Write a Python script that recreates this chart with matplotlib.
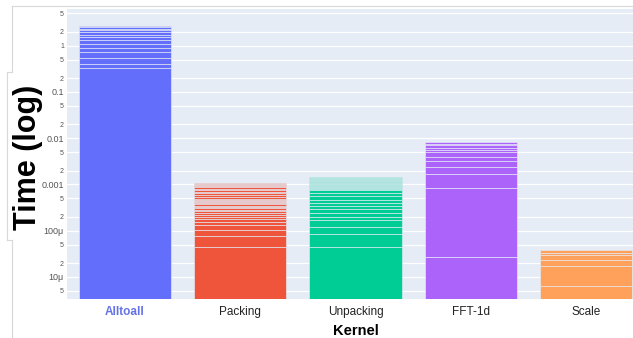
import numpy as np
import matplotlib
matplotlib.use("Agg")
import matplotlib.pyplot as plt
from matplotlib.lines import Line2D

plt.rcParams['font.family'] = ['Liberation Sans', 'DejaVu Sans']

# per-call timings of each kernel, in seconds (one stacked segment per call)
kernels = ["Alltoall", "Packing", "Unpacking", "FFT-1d", "Scale"]
colors = ["#636EFA", "#EF553B", "#00CC96", "#AB63FA", "#FFA15A"]

alltoall_t = [0.33, 0.07, 0.14, 0.19, 0.16, 0.20, 0.24, 0.19, 0.19,
              0.24, 0.24, 0.16, 0.16, 0.16]

packing_us = [45, 32, 27, 29, 22, 22, 21, 22, 22, 20, 19, 23, 22,
              24, 24, 24, 22, 22, 22, 22,
              51, 58, 60, 50, 55, 55, 55, 55, 52, 53, 50]
packing_t = [v * 1e-6 for v in packing_us]

unpacking_us = [44, 41, 35, 51, 27, 44, 56, 47, 53, 67, 100, 90, 105,
                40, 38, 38, 42, 40, 44, 46, 42, 45, 43, 46, 44,
                42, 45, 46, 48]
unpacking_t = [v * 1e-6 for v in unpacking_us]

fft_ms = [0.027, 0.80, 0.83, 0.77, 0.79, 0.77, 0.98, 0.60, 0.68, 0.90,
          0.50, 0.52]
fft_t = [v * 1e-3 for v in fft_ms]

scale_us = [6.5, 10.8, 6.0, 6.6, 3.7, 3.8]
scale_t = [v * 1e-6 for v in scale_us]

segments = [alltoall_t, packing_t, unpacking_t, fft_t, scale_t]

ytick_vals = [5e-6, 1e-5, 2e-5, 5e-5, 1e-4, 2e-4, 5e-4, 1e-3, 2e-3, 5e-3,
              1e-2, 2e-2, 5e-2, 0.1, 0.2, 0.5, 1, 2, 5]
ytick_text = ["5", "10μ", "2", "5", "100μ", "2", "5", "0.001", "2", "5",
              "0.01", "2", "5", "0.1", "2", "5", "1", "2", "5"]

W, H = 633, 338
fig = plt.figure(figsize=(W / 100, H / 100), dpi=100)
fig.patch.set_facecolor("white")

x0, x1, ytop, ybot = 67.4, 643.6, 9, 299
ax = fig.add_axes([x0 / W, (H - ybot) / H, (x1 - x0) / W, (ybot - ytop) / H])
ax.set_facecolor("#E5ECF6")
ax.set_yscale("log")
ax.set_xlim(-0.5, 4.5)
ax.set_ylim(3.34e-6, 6.23)

for i, (segs, c) in enumerate(zip(segments, colors)):
    segs = np.array(segs)
    bottoms = np.concatenate([[0], np.cumsum(segs)[:-1]])
    ax.bar(np.full(len(segs), i), segs, bottom=bottoms, width=0.8,
           color=c, edgecolor="#E5ECF6", linewidth=0.45, zorder=2)

ax.set_yticks(ytick_vals, ytick_text)
ax.yaxis.set_minor_locator(matplotlib.ticker.NullLocator())
for lab in ax.get_yticklabels():
    if len(lab.get_text()) == 1:
        lab.set_fontsize(5)
    else:
        lab.set_fontsize(6.5)
    lab.set_color("#555555")
ax.tick_params(axis="y", length=0, pad=2.5)
ax.grid(axis="y", color="white", linewidth=0.9, zorder=1)
ax.set_axisbelow(True)

ax.set_xticks(range(len(kernels)), kernels)
ax.tick_params(axis="x", length=0, pad=5, labelsize=8.5, labelcolor="#222222")
xl = ax.get_xticklabels()
xl[0].set_color("#6673E6")
xl[0].set_fontweight("bold")

for s in ax.spines.values():
    s.set_visible(False)

fig.text(355.5 / W, (H - 331) / H, "Kernel", fontsize=10.5, fontweight="bold",
         ha="center", va="center")
fig.text(28 / W, (H - 157) / H, "Time (log)", fontsize=22, fontweight="bold",
         rotation=90, ha="center", va="center")

# light panel border around the plot
frame = [([12, 633], [6, 6]), ([12, 12], [6, 72]), ([7, 12], [72, 72]),
         ([7, 7], [72, 240]), ([7, 12], [240, 240]), ([12, 12], [240, 338])]
for xs, ys in frame:
    fig.add_artist(Line2D([x / W for x in xs], [(H - y) / H for y in ys],
                          color="#d8d8d8", linewidth=0.8))

fig.savefig("out.png", dpi=100)
